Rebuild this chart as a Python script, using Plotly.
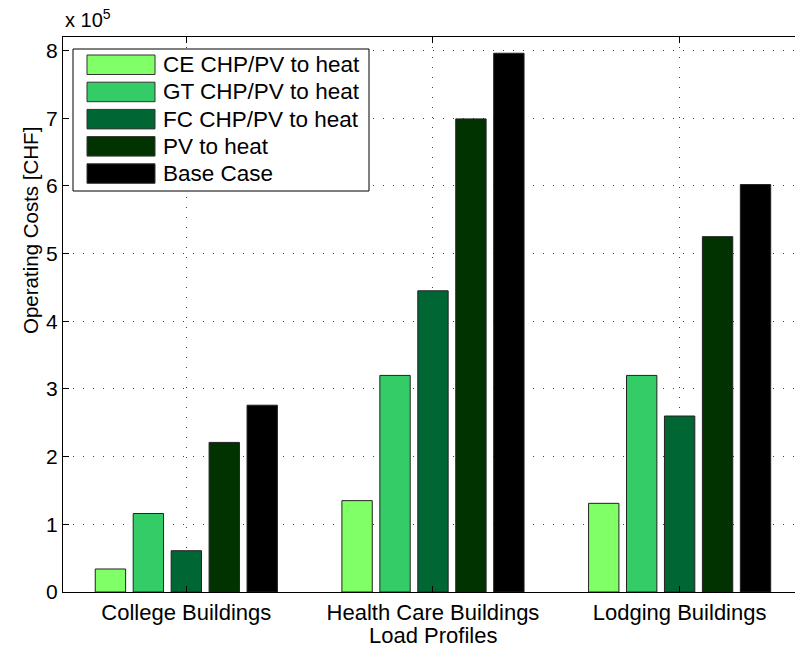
import plotly.graph_objects as go

# Operating costs per load profile, in units of 1e5 CHF
categories = ["College Buildings", "Health Care Buildings", "Lodging Buildings"]
series_names = ["CE CHP/PV to heat", "GT CHP/PV to heat", "FC CHP/PV to heat",
                "PV to heat", "Base Case"]
ce_chp = [0.34, 1.35, 1.31]
gt_chp = [1.16, 3.20, 3.20]
fc_chp = [0.61, 4.45, 2.60]
pv_heat = [2.21, 6.99, 5.25]
base_case = [2.76, 7.96, 6.02]
series_values = [ce_chp, gt_chp, fc_chp, pv_heat, base_case]
colors = ["#80FF66", "#33CC66", "#006633", "#003300", "#000000"]
y_ticks = [0, 1, 2, 3, 4, 5, 6, 7, 8]

FONT = "Liberation Sans, Arial, Helvetica, sans-serif"
W, H = 795, 653
L, R, T, B = 63, 0, 37, 61
PW, PH = W - L - R, H - T - B

x_pos = list(range(1, len(categories) + 1))
x_unit = 246.65  # pixels per category step

fig = go.Figure()
for name, vals, col in zip(series_names, series_values, colors):
    fig.add_trace(go.Bar(
        x=x_pos, y=vals, name=name, showlegend=False,
        marker=dict(color=col, line=dict(color="#222222", width=1)),
    ))


def px_x(px):
    return (px - L) / PW


def px_y(py):
    return (H - B - py) / PH


# Boxed legend with wide swatches
shapes = [dict(type="rect", xref="paper", yref="paper", layer="above",
               x0=px_x(73), x1=px_x(369), y0=px_y(191), y1=px_y(49),
               fillcolor="white", line=dict(color="black", width=1))]
annotations = []
row_top, row_step, sw_h = 55, 27.2, 19.5
for i, (name, col) in enumerate(zip(series_names, colors)):
    top = row_top + i * row_step
    shapes.append(dict(type="rect", xref="paper", yref="paper", layer="above",
                       x0=px_x(87), x1=px_x(155), y0=px_y(top + sw_h), y1=px_y(top),
                       fillcolor=col, line=dict(color="#333333", width=1)))
    annotations.append(dict(text=name, xref="paper", yref="paper",
                            x=px_x(161), y=px_y(top + sw_h / 2),
                            xanchor="left", yanchor="middle", showarrow=False,
                            font=dict(family=FONT, size=22.5, color="black")))

# Exponent label above the y axis
annotations.append(dict(text="x 10<sup>5</sup>", xref="paper", yref="paper",
                        x=0, y=px_y(33), xanchor="left", yanchor="bottom",
                        showarrow=False,
                        font=dict(family=FONT, size=20, color="black")))
# Y axis title
annotations.append(dict(text="Operating Costs [CHF]", xref="paper", yref="paper",
                        x=px_x(30), y=px_y(231), textangle=-90,
                        xanchor="center", yanchor="middle", showarrow=False,
                        font=dict(family=FONT, size=20.5, color="black")))
# X axis title
annotations.append(dict(text="Load Profiles", xref="x", yref="paper",
                        x=2, y=px_y(635), xanchor="center", yanchor="middle",
                        showarrow=False,
                        font=dict(family=FONT, size=22, color="black")))

fig.update_layout(
    width=W, height=H, autosize=False,
    margin=dict(l=L, r=R, t=T, b=B, pad=0),
    paper_bgcolor="white", plot_bgcolor="white",
    barmode="group", bargap=1 - 5 / 6.5, bargroupgap=0.2,
    shapes=shapes, annotations=annotations,
    font=dict(family=FONT, size=21, color="black"),
)
fig.update_xaxes(
    range=[0.5, 0.5 + PW / x_unit],
    tickvals=x_pos, ticktext=categories,
    ticks="inside", ticklen=6, tickcolor="black", tickwidth=1,
    showline=True, linecolor="black", linewidth=1.2, mirror="ticks",
    showgrid=True, gridcolor="#444444", gridwidth=1, griddash="1px,9px",
    zeroline=False, ticklabelstandoff=0,
    tickfont=dict(family=FONT, size=22, color="black"),
)
fig.update_yaxes(
    range=[0, 8.2], tickvals=y_ticks,
    ticks="inside", ticklen=6, tickcolor="black", tickwidth=1,
    showline=True, linecolor="black", linewidth=1.2, mirror=False,
    showgrid=True, gridcolor="#444444", gridwidth=1, griddash="1px,9px",
    zeroline=False, tickfont=dict(family=FONT, size=21, color="black"),
)

fig.write_html("out.html")
